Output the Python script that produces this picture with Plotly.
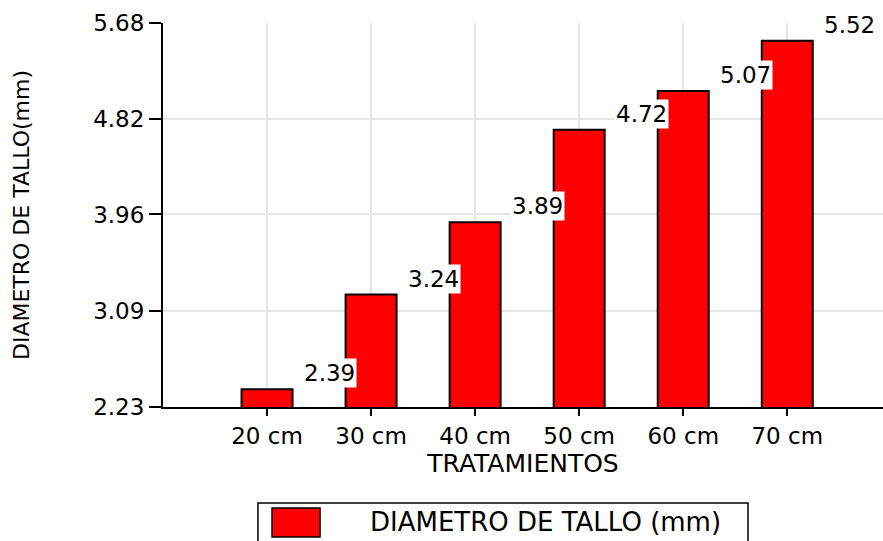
import plotly.graph_objects as go

categories = ["20 cm", "30 cm", "40 cm", "50 cm", "60 cm", "70 cm"]
values = [2.39, 3.24, 3.89, 4.72, 5.07, 5.52]
value_labels = ["2.39", "3.24", "3.89", "4.72", "5.07", "5.52"]
y_ticks = [2.23, 3.09, 3.96, 4.82, 5.68]
y_tick_labels = ["2.23", "3.09", "3.96", "4.82", "5.68"]
series_name = "DIAMETRO DE TALLO (mm)"
x_title = "TRATAMIENTOS"
y_title = "DIAMETRO DE TALLO(mm)"

FONT = "DejaVu Sans"
xpos = list(range(len(categories)))

fig = go.Figure()
fig.add_trace(go.Bar(
    x=xpos, y=values, width=0.49, name=series_name,
    marker=dict(color="#ff0000", line=dict(color="black", width=2)),
    showlegend=False,
))

annotations = []
for xi, v, lab in zip(xpos, values, value_labels):
    annotations.append(dict(
        x=xi, y=v, xref="x", yref="y", text=lab, showarrow=False,
        xshift=62, yshift=16, bgcolor="white", borderpad=1,
        font=dict(family=FONT, size=23, color="black"),
    ))

# legend drawn as a box (paper coords)
annotations.append(dict(
    x=0.5306, y=-0.2995, xref="paper", yref="paper", text=series_name,
    showarrow=False, xanchor="center", yanchor="middle",
    font=dict(family=FONT, size=26, color="black"),
))

shapes = [
    dict(type="rect", xref="paper", yref="paper", x0=0.1319, x1=0.8125,
         y0=-0.375, y1=-0.2500, line=dict(color="black", width=1.5), fillcolor="white", layer="below"),
    dict(type="rect", xref="paper", yref="paper", x0=0.1514, x1=0.2181,
         y0=-0.3385, y1=-0.263, line=dict(color="black", width=1.5), fillcolor="#ff0000"),
]

fig.update_layout(
    width=883, height=541,
    margin=dict(l=163, r=0, t=23, b=134),
    paper_bgcolor="white", plot_bgcolor="white",
    font=dict(family=FONT, color="black"),
    annotations=annotations, shapes=shapes,
    showlegend=False,
    xaxis=dict(
        range=[-1, 5.92], tickmode="array", tickvals=xpos, ticktext=categories,
        showgrid=True, gridcolor="#e6e6e6", gridwidth=1.5,
        showline=True, linecolor="black", linewidth=2,
        ticks="outside", ticklen=7, tickwidth=2, tickcolor="black",
        tickfont=dict(family=FONT, size=23, color="black"),
        title=dict(text=x_title, font=dict(family=FONT, size=25, color="black"), standoff=4),
        zeroline=False, automargin=False,
    ),
    yaxis=dict(
        range=[2.23, 5.68], tickmode="array", tickvals=y_ticks, ticktext=y_tick_labels,
        showgrid=True, gridcolor="#e6e6e6", gridwidth=1.5,
        showline=True, linecolor="black", linewidth=2,
        ticks="outside", ticklen=12, tickwidth=2, tickcolor="black",
        tickfont=dict(family=FONT, size=23, color="black"),
        title=dict(text=y_title, font=dict(family=FONT, size=22, color="black"), standoff=57),
        zeroline=False, automargin=False,
    ),
)

fig.write_html(
    "out.html",
    config={"displayModeBar": False},
    post_script="document.body.style.margin='0';document.body.style.overflow='hidden';",
)
